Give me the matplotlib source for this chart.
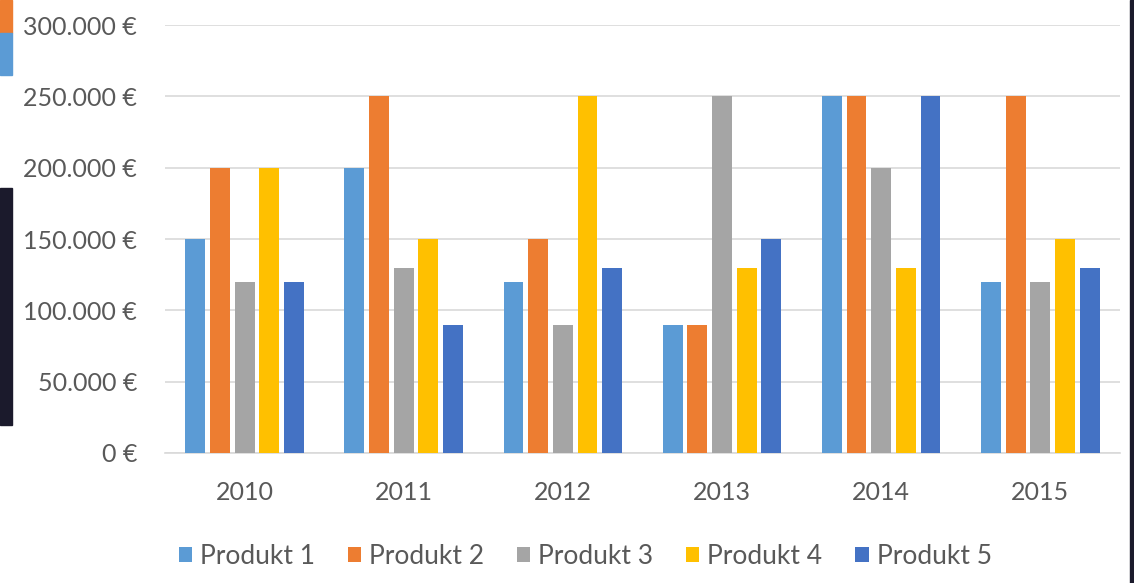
import numpy as np
import matplotlib.pyplot as plt
from matplotlib.patches import Rectangle

# data (values in euro)
years = ["2010", "2011", "2012", "2013", "2014", "2015"]
produkte = ["Produkt 1", "Produkt 2", "Produkt 3", "Produkt 4", "Produkt 5"]
produkt_1 = [150000, 200000, 120000, 90000, 250000, 120000]
produkt_2 = [200000, 250000, 150000, 90000, 250000, 250000]
produkt_3 = [120000, 130000, 90000, 250000, 200000, 120000]
produkt_4 = [200000, 150000, 250000, 130000, 130000, 150000]
produkt_5 = [120000, 90000, 130000, 150000, 250000, 130000]
y_ticks = [0, 50000, 100000, 150000, 200000, 250000, 300000]

colors = ["#5B9BD5", "#ED7D31", "#A5A5A5", "#FFC000", "#4472C4"]
TEXT = "#595959"
GRID = "#D9D9D9"

plt.rcParams["font.family"] = ["Lato", "DejaVu Sans"]


def euro(v):
    # German thousands separator
    return f"{v:,.0f}".replace(",", ".") + " €"


fig = plt.figure(figsize=(11.34, 5.83), dpi=100)
ax = fig.add_axes([0.1455, 0.223, 0.842, 0.734])

series = [produkt_1, produkt_2, produkt_3, produkt_4, produkt_5]
x = np.arange(len(years))
step = 0.155
width = 0.125
for i, vals in enumerate(series):
    ax.bar(x + (i - 2) * step, vals, width=width, color=colors[i],
           label=produkte[i], zorder=3)

ax.set_xlim(-0.5, len(years) - 0.5)
ax.set_ylim(0, 300000)
ax.set_yticks(y_ticks)
ax.set_yticklabels([euro(v) for v in y_ticks])
ax.set_xticks(x)
ax.set_xticklabels(years)

ax.grid(axis="y", color=GRID, linewidth=1.2, zorder=0)
for s in ["top", "right", "left"]:
    ax.spines[s].set_visible(False)
ax.spines["bottom"].set_color(GRID)
ax.spines["bottom"].set_linewidth(1.2)
ax.tick_params(axis="both", length=0, labelsize=18, colors=TEXT)
ax.tick_params(axis="y", pad=20)
ax.tick_params(axis="x", pad=20)

handles, labels = ax.get_legend_handles_labels()
leg = fig.legend(handles, labels, loc="lower center", ncol=5,
                 bbox_to_anchor=(0.516, -0.016), frameon=False, fontsize=19,
                 handlelength=0.5, handleheight=0.5, handletextpad=0.3,
                 columnspacing=1.25, labelcolor=TEXT)

# screenshot edges around the chart
fig.patches.append(Rectangle((0.9965, 0), 0.0035, 1, transform=fig.transFigure,
                             color="#1B1A2C", zorder=0))
fig.patches.append(Rectangle((0, 0.271), 0.0105, 0.407, transform=fig.transFigure,
                             color="#1B1A2C", zorder=0))
fig.patches.append(Rectangle((0, 0.943), 0.0105, 0.057, transform=fig.transFigure,
                             color="#ED7D31", zorder=0))
fig.patches.append(Rectangle((0, 0.871), 0.0105, 0.072, transform=fig.transFigure,
                             color="#5B9BD5", zorder=0))

fig.savefig("out.png", dpi=100)
